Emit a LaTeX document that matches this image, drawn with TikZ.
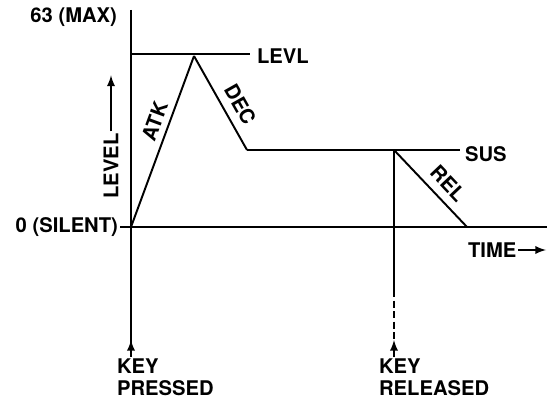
\documentclass[tikz,border=0pt]{standalone}
\usepackage{fontspec}
\setmainfont{TeX Gyre Heros}
\usepackage{tikz}
\usetikzlibrary{arrows.meta}
\tikzset{>=latex}

\begin{document}
\begin{tikzpicture}[
    x = 0.02cm, y = -0.02cm,
    d0/.style = {line width = 1.1pt},
    lbl/.style = {font = \fontsize{11.5}{12.5}\selectfont\bfseries, inner sep = 1pt}
]
\useasboundingbox (0,0) rectangle (547,405);

% envelope corners
\coordinate (origin) at (131,227);
\coordinate (peak) at (194,56);
\coordinate (decend) at (247,150);
\coordinate (relstart) at (394,150);
\coordinate (relend) at (467,227);
\coordinate (top) at (131,10);
\coordinate (keyend) at (131,350);
\coordinate (relfoot) at (394,350);
\coordinate (dashtop) at (394,290);

% labels
\node[lbl, anchor = east] (max) at (119,17) {63 (MAX)};
\node[lbl, anchor = east] (silent) at (120,227) {0 (SILENT)};
\node[lbl, anchor = west] (levl) at (255,56) {LEVL};
\node[lbl, anchor = west] (sus) at (463,154) {SUS};
\node[lbl, anchor = west] (time) at (466,250) {TIME};
\node[lbl, rotate = 90] (level) at (111,166) {LEVEL};
\node[lbl, anchor = north west, align = left] (keyp) at (115,357) {KEY\\PRESSED};
\node[lbl, anchor = north west, align = left] (keyr) at (377,357) {KEY\\RELEASED};

% axes
\draw[d0] (top) -- (keyend);
\draw[d0] (silent.east) -- (547,227);
\draw[d0, ->] (keyp.north -| keyend) -- ++(0,-17);
\draw[d0, ->] (level.east) -- ++(0,-56);
\draw[d0, ->] (time.east) -- (546,250);

% level marks
\draw[d0] (origin |- peak) ++(0,-2) -- (250,54);
\draw[d0] (decend) -- (460,150);

% envelope
\draw[d0] (origin) -- (peak) node[lbl, pos = 0.59, sloped, above = 2.5pt] {ATK};
\draw[d0] (peak) -- (decend) node[lbl, pos = 0.6, sloped, above = 3.5pt] {DEC};
\draw[d0] (relstart) -- (relend) node[lbl, pos = 0.58, sloped, above = 3.5pt] {REL};

% key release
\draw[d0] (relstart) -- (dashtop);
\draw[d0, dashed, dash pattern = on 4pt off 2pt] (dashtop) -- (relfoot);
\draw[d0, ->] (keyr.north -| relfoot) -- ++(0,-17);

\end{tikzpicture}
\end{document}
